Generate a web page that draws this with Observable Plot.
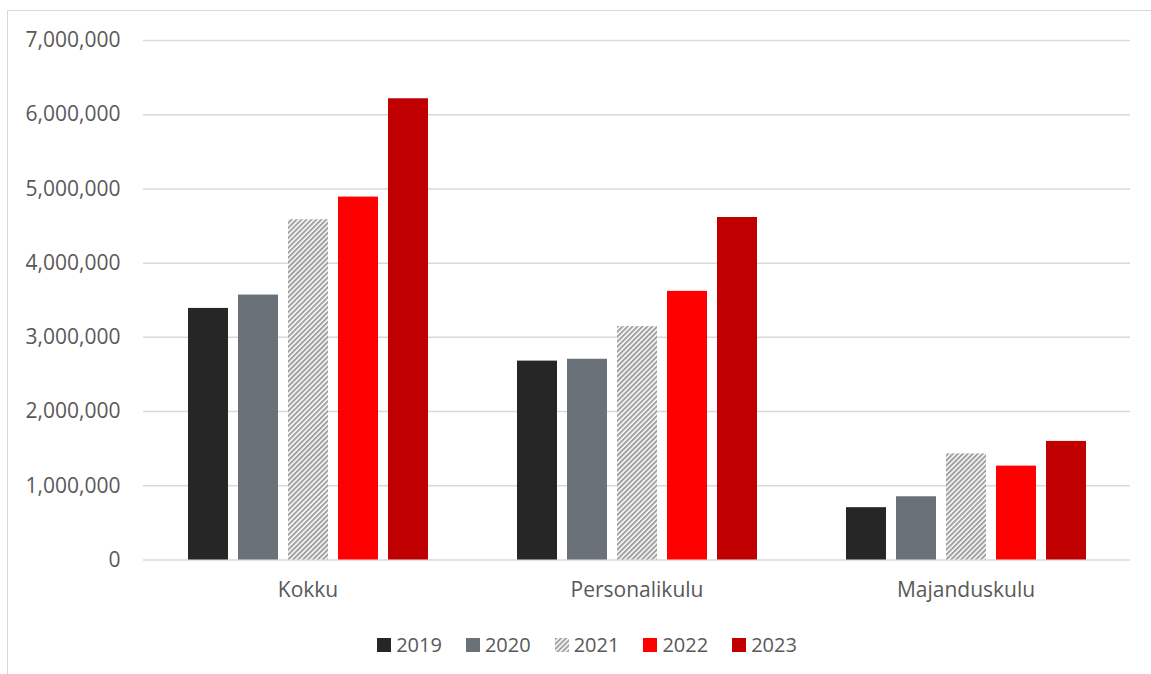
<!DOCTYPE html>
<html>
<head>
<meta charset="utf-8">
<script src="https://cdn.jsdelivr.net/npm/d3@7"></script>
<script src="https://cdn.jsdelivr.net/npm/@observablehq/plot@0.6"></script>
<style>
  html, body { margin: 0; padding: 0; background: #fff; }
  body { width: 1151px; height: 674px; overflow: hidden; position: relative; font-family: 'Open Sans', sans-serif; }
  #frame { position: absolute; left: 7px; top: 10px; width: 2000px; height: 2000px;
           border-top: 1.5px solid #d9d9d9; border-left: 1.5px solid #d9d9d9; pointer-events: none; }
  #chart { position: absolute; left: 0; top: 0; }
  #legend { position: absolute; left: 0; top: 628px; width: 1198px; }
  #legend .lg-swatch { margin-right: 24px !important; }
  #legend .lg-swatch > svg { margin-right: 5px !important; }
</style>
</head>
<body>
<svg width="0" height="0" style="position:absolute">
  <defs>
    <pattern id="hatch21" patternUnits="userSpaceOnUse" width="3.5" height="3.5" patternTransform="rotate(45)">
      <rect x="0" y="0" width="3.5" height="3.5" fill="#ffffff"></rect>
      <rect x="0" y="0" width="2" height="3.5" fill="#a0a0a0"></rect>
    </pattern>
  </defs>
</svg>
<div id="chart"></div>
<div id="legend"></div>
<div id="frame"></div>
<script>
const categories = ["Kokku", "Personalikulu", "Majanduskulu"];
const years = ["2019", "2020", "2021", "2022", "2023"];
const v2019 = [3390000, 2680000, 705000];
const v2020 = [3570000, 2705000, 852000];
const v2021 = [4585000, 3145000, 1430000];
const v2022 = [4890000, 3620000, 1265000];
const v2023 = [6215000, 4615000, 1598000];
const yTicks = [0, 1000000, 2000000, 3000000, 4000000, 5000000, 6000000, 7000000];
const yearColors = ["#262626", "#6b7178", "url(#hatch21)", "#ff0000", "#c00000"];

const series = [v2019, v2020, v2021, v2022, v2023];
const data = categories.flatMap((c, i) => years.map((y, j) => ({category: c, year: y, value: series[j][i]})));

const font = {fontFamily: "'Open Sans', sans-serif", fontSize: "21px", color: "#595959", background: "transparent", overflow: "visible"};

const chart = Plot.plot({
  width: 1151,
  height: 600,
  marginLeft: 143,
  marginRight: 21,
  marginTop: 40,
  marginBottom: 40.5,
  style: font,
  fx: {domain: categories, padding: 0, label: null, axis: "bottom", tickSize: 0, tickPadding: 22},
  x: {domain: years, axis: null, paddingInner: 0.2, paddingOuter: 0.86},
  y: {domain: [0, 7000000], ticks: yTicks, tickFormat: d3.format(","), tickSize: 0, tickPadding: 23, label: null},
  color: {domain: years, range: yearColors},
  marks: [
    Plot.ruleY(yTicks, {stroke: "#d9d9d9", strokeWidth: 1.5}),
    Plot.barY(data, {fx: "category", x: "year", y: "value", fill: "year"})
  ]
});
document.getElementById("chart").appendChild(chart);

const legend = Plot.legend({
  color: {domain: years, range: yearColors, type: "ordinal"},
  swatchSize: 14,
  className: "lg",
  style: {justifyContent: "center", fontFamily: "'Open Sans', sans-serif", fontSize: "20px", color: "#595959", background: "transparent"}
});
document.getElementById("legend").appendChild(legend);
</script>
</body>
</html>
